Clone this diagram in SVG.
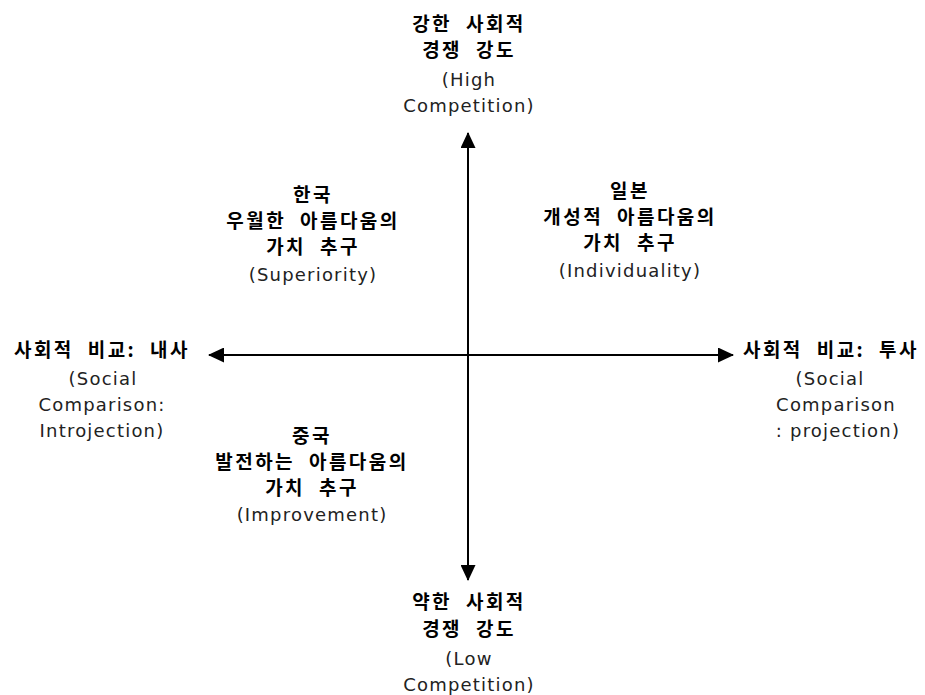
<svg xmlns="http://www.w3.org/2000/svg" width="925" height="695" viewBox="0 0 925 695">
  <style>
    .ko { font-family: "Noto Sans CJK KR", "Noto Sans", sans-serif; font-weight: bold; font-size: 19px; letter-spacing: 2.5px; word-spacing: 7px; fill: #000; text-anchor: middle; }
    .en { font-family: "DejaVu Sans", "Liberation Sans", sans-serif; font-size: 18px; letter-spacing: 1.2px; fill: #222; text-anchor: middle; }
    .axis { stroke: #000; stroke-width: 2; fill: none; }
  </style>
  <defs>
    <marker id="head" viewBox="0 0 16 15" refX="15" refY="7.5" markerWidth="16" markerHeight="15" markerUnits="userSpaceOnUse" orient="auto-start-reverse">
      <path d="M0,0 L16,7.5 L0,15 Z" fill="#000"/>
    </marker>
  </defs>

  <g id="connectors">
    <line class="axis" x1="468" y1="580" x2="468" y2="133" marker-start="url(#head)" marker-end="url(#head)"/>
    <line class="axis" x1="209" y1="355" x2="733" y2="355" marker-start="url(#head)" marker-end="url(#head)"/>
  </g>

  <g id="high-competition">
    <text class="ko" x="469" y="31">강한 사회적</text>
    <text class="ko" x="469" y="57">경쟁 강도</text>
    <text class="en" x="469" y="86">(High</text>
    <text class="en" x="469" y="112">Competition)</text>
  </g>

  <g id="low-competition">
    <text class="ko" x="469" y="609">약한 사회적</text>
    <text class="ko" x="469" y="636">경쟁 강도</text>
    <text class="en" x="469" y="665">(Low</text>
    <text class="en" x="469" y="691">Competition)</text>
  </g>

  <g id="introjection">
    <text class="ko" x="102" y="357">사회적 비교: 내사</text>
    <text class="en" x="103" y="385">(Social</text>
    <text class="en" x="102" y="411">Comparison:</text>
    <text class="en" x="102" y="437">Introjection)</text>
  </g>

  <g id="projection">
    <text class="ko" x="831" y="357">사회적 비교: 투사</text>
    <text class="en" x="830" y="385">(Social</text>
    <text class="en" x="836" y="411">Comparison</text>
    <text class="en" x="838" y="437">: projection)</text>
  </g>

  <g id="korea">
    <text class="ko" x="313" y="202">한국</text>
    <text class="ko" x="313" y="228">우월한 아름다움의</text>
    <text class="ko" x="313" y="254">가치 추구</text>
    <text class="en" x="313" y="281">(Superiority)</text>
  </g>

  <g id="japan">
    <text class="ko" x="630" y="198">일본</text>
    <text class="ko" x="630" y="224">개성적 아름다움의</text>
    <text class="ko" x="630" y="250">가치 추구</text>
    <text class="en" x="630" y="277">(Individuality)</text>
  </g>

  <g id="china">
    <text class="ko" x="312" y="443">중국</text>
    <text class="ko" x="312" y="469">발전하는 아름다움의</text>
    <text class="ko" x="312" y="495">가치 추구</text>
    <text class="en" x="312" y="521">(Improvement)</text>
  </g>
</svg>
